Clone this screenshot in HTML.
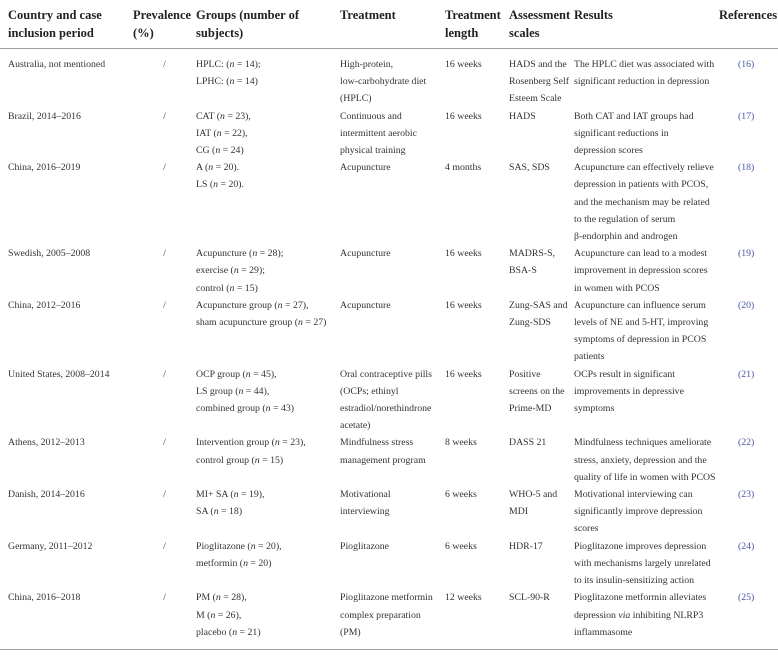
<!DOCTYPE html>
<html><head><meta charset="utf-8">
<style>
html,body{margin:0;padding:0;background:#fff;}
body{width:778px;height:657px;overflow:hidden;position:relative;font-family:"Liberation Serif","DejaVu Serif",serif;color:#333;}
table{position:absolute;left:0;top:0;border-collapse:collapse;table-layout:fixed;width:778px;}
th{font-weight:bold;font-size:12.5px;line-height:18px;text-align:left;vertical-align:top;padding:6px 0 6px 0;color:#222;white-space:nowrap;}
thead tr{border-bottom:1.5px solid #a0a0a0;}
td{font-size:9.8px;line-height:17.2px;vertical-align:top;padding:0;white-space:nowrap;}
tbody tr.first td{padding-top:7px;}
tbody tr.last td{padding-bottom:8px;}
tbody tr.last{border-bottom:1.5px solid #a0a0a0;}
.c1{padding-left:8px;}
.prev{text-align:center;}
.ref{text-align:left;padding-left:19px;color:#4a55a8;}
i{font-style:italic;}
</style></head>
<body>
<table>
<colgroup><col style="width:133px"><col style="width:63px"><col style="width:144px"><col style="width:105px"><col style="width:64px"><col style="width:65px"><col style="width:145px"><col style="width:59px"></colgroup>
<thead>
<tr>
<th class="c1">Country and case<br>inclusion period</th>
<th>Prevalence<br>(%)</th>
<th>Groups (number of<br>subjects)</th>
<th>Treatment</th>
<th>Treatment<br>length</th>
<th>Assessment<br>scales</th>
<th>Results</th>
<th>References</th>
</tr>
</thead>
<tbody>
<tr class="first">
<td class="c1">Australia, not mentioned</td><td class="prev">/</td>
<td>HPLC: (<i>n</i> = 14);<br>LPHC: (<i>n</i> = 14)</td>
<td>High-protein,<br>low-carbohydrate diet<br>(HPLC)</td>
<td>16 weeks</td><td>HADS and the<br>Rosenberg Self<br>Esteem Scale</td>
<td>The HPLC diet was associated with<br>significant reduction in depression</td>
<td class="ref">(16)</td></tr>
<tr>
<td class="c1">Brazil, 2014–2016</td><td class="prev">/</td>
<td>CAT (<i>n</i> = 23),<br>IAT (<i>n</i> = 22),<br>CG (<i>n</i> = 24)</td>
<td>Continuous and<br>intermittent aerobic<br>physical training</td>
<td>16 weeks</td><td>HADS</td>
<td>Both CAT and IAT groups had<br>significant reductions in<br>depression scores</td>
<td class="ref">(17)</td></tr>
<tr>
<td class="c1">China, 2016–2019</td><td class="prev">/</td>
<td>A (<i>n</i> = 20).<br>LS (<i>n</i> = 20).</td>
<td>Acupuncture</td>
<td>4 months</td><td>SAS, SDS</td>
<td>Acupuncture can effectively relieve<br>depression in patients with PCOS,<br>and the mechanism may be related<br>to the regulation of serum<br>β-endorphin and androgen</td>
<td class="ref">(18)</td></tr>
<tr>
<td class="c1">Swedish, 2005–2008</td><td class="prev">/</td>
<td>Acupuncture (<i>n</i> = 28);<br>exercise (<i>n</i> = 29);<br>control (<i>n</i> = 15)</td>
<td>Acupuncture</td>
<td>16 weeks</td><td>MADRS-S,<br>BSA-S</td>
<td>Acupuncture can lead to a modest<br>improvement in depression scores<br>in women with PCOS</td>
<td class="ref">(19)</td></tr>
<tr>
<td class="c1">China, 2012–2016</td><td class="prev">/</td>
<td>Acupuncture group (<i>n</i> = 27),<br>sham acupuncture group (<i>n</i> = 27)</td>
<td>Acupuncture</td>
<td>16 weeks</td><td>Zung-SAS and<br>Zung-SDS</td>
<td>Acupuncture can influence serum<br>levels of NE and 5-HT, improving<br>symptoms of depression in PCOS<br>patients</td>
<td class="ref">(20)</td></tr>
<tr>
<td class="c1">United States, 2008–2014</td><td class="prev">/</td>
<td>OCP group (<i>n</i> = 45),<br>LS group (<i>n</i> = 44),<br>combined group (<i>n</i> = 43)</td>
<td>Oral contraceptive pills<br>(OCPs; ethinyl<br>estradiol/norethindrone<br>acetate)</td>
<td>16 weeks</td><td>Positive<br>screens on the<br>Prime-MD</td>
<td>OCPs result in significant<br>improvements in depressive<br>symptoms</td>
<td class="ref">(21)</td></tr>
<tr>
<td class="c1">Athens, 2012–2013</td><td class="prev">/</td>
<td>Intervention group (<i>n</i> = 23),<br>control group (<i>n</i> = 15)</td>
<td>Mindfulness stress<br>management program</td>
<td>8 weeks</td><td>DASS 21</td>
<td>Mindfulness techniques ameliorate<br>stress, anxiety, depression and the<br>quality of life in women with PCOS</td>
<td class="ref">(22)</td></tr>
<tr>
<td class="c1">Danish, 2014–2016</td><td class="prev">/</td>
<td>MI+ SA (<i>n</i> = 19),<br>SA (<i>n</i> = 18)</td>
<td>Motivational<br>interviewing</td>
<td>6 weeks</td><td>WHO-5 and<br>MDI</td>
<td>Motivational interviewing can<br>significantly improve depression<br>scores</td>
<td class="ref">(23)</td></tr>
<tr>
<td class="c1">Germany, 2011–2012</td><td class="prev">/</td>
<td>Pioglitazone (<i>n</i> = 20),<br>metformin (<i>n</i> = 20)</td>
<td>Pioglitazone</td>
<td>6 weeks</td><td>HDR-17</td>
<td>Pioglitazone improves depression<br>with mechanisms largely unrelated<br>to its insulin-sensitizing action</td>
<td class="ref">(24)</td></tr>
<tr class="last">
<td class="c1">China, 2016–2018</td><td class="prev">/</td>
<td>PM (<i>n</i> = 28),<br>M (<i>n</i> = 26),<br>placebo (<i>n</i> = 21)</td>
<td>Pioglitazone metformin<br>complex preparation<br>(PM)</td>
<td>12 weeks</td><td>SCL-90-R</td>
<td>Pioglitazone metformin alleviates<br>depression <i>via</i> inhibiting NLRP3<br>inflammasome</td>
<td class="ref">(25)</td></tr>
</tbody>
</table>
</body></html>
